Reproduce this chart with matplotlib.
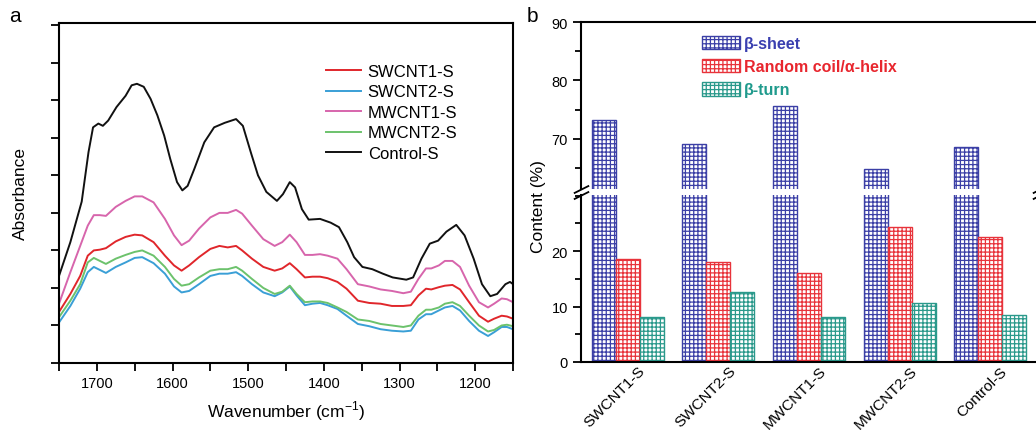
import matplotlib
matplotlib.use("Agg")
import matplotlib.pyplot as plt
import matplotlib.transforms as mtransforms
import numpy as np
from matplotlib.ticker import MultipleLocator

plt.rcParams['font.family'] = ['Liberation Sans', 'DejaVu Sans']
plt.rcParams['hatch.linewidth'] = 0.9
plt.rcParams['mathtext.fontset'] = 'custom'
plt.rcParams['mathtext.rm'] = 'Liberation Sans'

# ---- panel a: FTIR spectra (arbitrary absorbance units)
wavenumber = [1750, 1735, 1722, 1712, 1704, 1696, 1688, 1675, 1662, 1650, 1640,
              1625, 1610, 1598, 1588, 1578, 1565, 1550, 1538, 1527, 1516, 1508,
              1495, 1480, 1465, 1455, 1445, 1436, 1425, 1415, 1405, 1395, 1382,
              1370, 1355, 1340, 1325, 1310, 1295, 1285, 1275, 1265, 1258, 1248,
              1240, 1230, 1220, 1208, 1195, 1183, 1175, 1165, 1158, 1150, 1146]
swcnt1 = [0.68, 0.92, 1.16, 1.43, 1.50, 1.51, 1.53, 1.62, 1.68, 1.71, 1.70,
          1.61, 1.43, 1.30, 1.23, 1.30, 1.41, 1.52, 1.56, 1.54, 1.56, 1.50,
          1.39, 1.28, 1.23, 1.26, 1.33, 1.25, 1.14, 1.15, 1.15, 1.13, 1.08,
          0.99, 0.83, 0.80, 0.79, 0.76, 0.76, 0.77, 0.90, 0.99, 0.98, 1.01,
          1.03, 1.04, 0.98, 0.81, 0.63, 0.55, 0.59, 0.63, 0.62, 0.59, 0.56]
swcnt2 = [0.54, 0.76, 0.99, 1.21, 1.28, 1.24, 1.20, 1.28, 1.34, 1.40, 1.41,
          1.33, 1.19, 1.02, 0.94, 0.96, 1.05, 1.16, 1.19, 1.19, 1.21, 1.16,
          1.05, 0.94, 0.89, 0.94, 1.02, 0.90, 0.77, 0.79, 0.80, 0.77, 0.72,
          0.63, 0.52, 0.49, 0.45, 0.43, 0.42, 0.43, 0.58, 0.65, 0.65, 0.70,
          0.74, 0.76, 0.70, 0.56, 0.43, 0.36, 0.41, 0.48, 0.48, 0.45, 0.43]
mwcnt1 = [0.79, 1.21, 1.56, 1.83, 1.97, 1.97, 1.96, 2.08, 2.16, 2.22, 2.22,
          2.14, 1.92, 1.70, 1.57, 1.63, 1.79, 1.94, 2.00, 2.00, 2.04, 1.99,
          1.83, 1.65, 1.56, 1.61, 1.71, 1.61, 1.44, 1.44, 1.45, 1.43, 1.39,
          1.25, 1.05, 1.02, 0.98, 0.96, 0.93, 0.95, 1.12, 1.26, 1.26, 1.30,
          1.36, 1.36, 1.28, 1.03, 0.81, 0.74, 0.79, 0.86, 0.85, 0.81, 0.79]
mwcnt2 = [0.61, 0.83, 1.05, 1.34, 1.40, 1.36, 1.32, 1.39, 1.44, 1.48, 1.50,
          1.43, 1.28, 1.12, 1.03, 1.05, 1.14, 1.23, 1.25, 1.25, 1.28, 1.23,
          1.12, 1.00, 0.92, 0.95, 1.03, 0.92, 0.81, 0.82, 0.82, 0.80, 0.74,
          0.68, 0.58, 0.56, 0.52, 0.50, 0.48, 0.50, 0.63, 0.71, 0.71, 0.74,
          0.79, 0.81, 0.76, 0.63, 0.50, 0.42, 0.44, 0.50, 0.51, 0.49, 0.48]
# control has bigger swings, so it was read at more points
control_wn = [1750, 1735, 1720, 1711, 1705, 1698, 1692, 1685, 1674, 1662,
              1654, 1647, 1638, 1629, 1620, 1611, 1603, 1594, 1587, 1580,
              1571, 1558, 1545, 1531, 1516, 1507, 1496, 1487, 1476, 1462,
              1454, 1445, 1438, 1429, 1420, 1405, 1391, 1380, 1369, 1360,
              1349, 1336, 1322, 1309, 1291, 1282, 1271, 1260, 1249, 1238,
              1225, 1214, 1202, 1191, 1180, 1171, 1160, 1154, 1147]
control = [1.16, 1.61, 2.15, 2.81, 3.14, 3.19, 3.16, 3.23, 3.41, 3.56,
           3.70, 3.72, 3.68, 3.52, 3.30, 3.03, 2.72, 2.41, 2.30, 2.36,
           2.59, 2.94, 3.14, 3.20, 3.25, 3.16, 2.79, 2.50, 2.28, 2.16,
           2.25, 2.41, 2.34, 2.05, 1.91, 1.92, 1.87, 1.81, 1.61, 1.41,
           1.28, 1.25, 1.19, 1.14, 1.11, 1.14, 1.39, 1.59, 1.63, 1.75,
           1.84, 1.70, 1.39, 1.05, 0.89, 0.92, 1.05, 1.08, 1.03]

# ---- panel b: secondary structure content (%)
samples = ["SWCNT1-S", "SWCNT2-S", "MWCNT1-S", "MWCNT2-S", "Control-S"]
beta_sheet = [73.3, 69.1, 75.7, 64.9, 68.6]
random_coil = [18.5, 18.0, 16.1, 24.3, 22.6]
beta_turn = [8.2, 12.7, 8.1, 10.6, 8.4]

W, H = 1036, 431
fig = plt.figure(figsize=(W / 100, H / 100), dpi=100)


def box(x0, y0, x1, y1):
    # pixel box -> figure fraction [left, bottom, width, height]
    return [x0 / W, 1 - y1 / H, (x1 - x0) / W, (y1 - y0) / H]


# ================= panel a =================
ax = fig.add_axes(box(59, 24, 513, 364))
spectra = [("SWCNT1-S", wavenumber, swcnt1, "#e0262b"),
           ("SWCNT2-S", wavenumber, swcnt2, "#3a9fd6"),
           ("MWCNT1-S", wavenumber, mwcnt1, "#d765ac"),
           ("MWCNT2-S", wavenumber, mwcnt2, "#6cc26c"),
           ("Control-S", control_wn, control, "#111111")]
for name, wn, vals, col in spectra:
    ax.plot(wn, vals, color=col, lw=1.4, label=name,
            solid_joinstyle='round')

ax.set_xlim(1750, 1150)
ax.set_ylim(0, 4.53)
ax.xaxis.set_major_locator(MultipleLocator(100))
ax.xaxis.set_minor_locator(MultipleLocator(50))
ax.yaxis.set_major_locator(MultipleLocator(1))
ax.yaxis.set_minor_locator(MultipleLocator(0.5))
ax.set_yticklabels([])
ax.tick_params(which='both', direction='out', width=1.3, labelsize=10.5)
ax.tick_params(which='major', length=6)
ax.tick_params(which='minor', length=6)
for s in ax.spines.values():
    s.set_linewidth(1.5)
ax.set_xlabel("Wavenumber (cm$^{-1}$)", fontsize=12.5, labelpad=6)
ax.set_ylabel("Absorbance", fontsize=12.5, labelpad=13)
ax.legend(loc='upper left', bbox_to_anchor=(326 / W, 1 - 65 / H),
          bbox_transform=fig.transFigure, frameon=False, fontsize=12,
          handlelength=2.1, handletextpad=0.4, labelspacing=0.33,
          borderpad=0, borderaxespad=0)
fig.text(15 / W, 1 - 16 / H, "a", fontsize=15, ha='center', va='center')

# ================= panel b (broken axis) =================
ax_top = fig.add_axes(box(581, 23, 1040, 190))
ax_bot = fig.add_axes(box(581, 196, 1040, 363))

x = np.arange(len(samples))
bw = 0.265
series = [("β-sheet", beta_sheet, "#3b3fa6", -bw),
          ("Random coil/α-helix", random_coil, "#e8333b", 0),
          ("β-turn", beta_turn, "#2a998b", bw)]
for a in (ax_top, ax_bot):
    for name, vals, col, off in series:
        a.bar(x + off, vals, width=bw, facecolor='white', edgecolor=col,
              hatch='++++', linewidth=1.0, label=name)
    a.set_xlim(-0.517, 4.55)
    a.tick_params(which='both', direction='out', width=1.3, labelsize=10.5)
    a.tick_params(which='major', length=6)
    a.tick_params(which='minor', length=4)
    for s in a.spines.values():
        s.set_linewidth(1.5)

ax_top.set_ylim(61.4, 90)
ax_top.yaxis.set_major_locator(MultipleLocator(10))
ax_top.yaxis.set_minor_locator(MultipleLocator(5))
ax_top.spines['bottom'].set_visible(False)
ax_top.set_xticks([])

ax_bot.set_ylim(0, 30.1)
ax_bot.set_yticks([0, 10, 20])
ax_bot.yaxis.set_minor_locator(MultipleLocator(5))
ax_bot.spines['top'].set_visible(False)
ax_bot.set_xticks(x)
ax_bot.set_xticklabels(samples, rotation=45, ha='right', va='top',
                       rotation_mode='anchor', fontsize=11)
ax_bot.tick_params(axis='x', length=0, pad=1)
shift = mtransforms.ScaledTranslation(10 / 100, 0, fig.dpi_scale_trans)
for lab in ax_bot.get_xticklabels():
    lab.set_transform(lab.get_transform() + shift)

# break marks
kw = dict(marker=[(-1, -0.5), (1, 0.5)], markersize=11, linestyle='none',
          color='k', mec='k', mew=1.3, clip_on=False)
ax_top.plot([0, 1], [0, 0], transform=ax_top.transAxes, **kw)
ax_bot.plot([0, 1], [1, 1], transform=ax_bot.transAxes, **kw)

fig.text(538 / W, 1 - 207 / H, "Content (%)", fontsize=12.5, rotation=90,
         ha='center', va='center')
fig.text(532 / W, 1 - 16 / H, "b", fontsize=15, ha='center', va='center')

ax_top.legend(loc='upper left', bbox_to_anchor=(702 / W, 1 - 37 / H),
              bbox_transform=fig.transFigure, frameon=False,
              prop={'size': 11.5, 'weight': 'bold'},
              labelcolor=["#3a3fb0", "#e8262e", "#1f9a8c"],
              handlelength=2.4, handleheight=0.9, handletextpad=0.25,
              labelspacing=0.5, borderpad=0, borderaxespad=0)

fig.savefig("out.png", dpi=100)
